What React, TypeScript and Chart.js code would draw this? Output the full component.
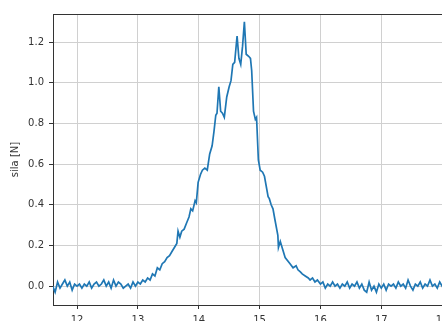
import React, { useEffect, useRef } from "react";
import { Chart, registerables } from "chart.js";

Chart.register(...registerables);

const xValues: number[] = [
  11.60, 11.64, 11.68, 11.72, 11.76, 11.80, 11.84, 11.88, 11.92, 11.96,
  12.00, 12.04, 12.08, 12.12, 12.16, 12.20, 12.24, 12.28, 12.32, 12.36,
  12.40, 12.44, 12.48, 12.52, 12.56, 12.60, 12.64, 12.68, 12.72, 12.76,
  12.80, 12.84, 12.88, 12.92, 12.96, 13.00, 13.04, 13.08, 13.12, 13.16,
  13.20, 13.24, 13.28, 13.32, 13.36, 13.40, 13.44, 13.48, 13.52, 13.56,
  13.60, 13.64, 13.66, 13.69, 13.72, 13.76, 13.80, 13.84, 13.87, 13.90,
  13.94, 13.96, 13.99, 14.03, 14.06, 14.10, 14.14, 14.18, 14.22, 14.25,
  14.28, 14.30, 14.33, 14.36, 14.39, 14.42, 14.46, 14.50, 14.53, 14.56,
  14.59, 14.63, 14.66, 14.69, 14.72, 14.75, 14.78, 14.82, 14.85, 14.87,
  14.90, 14.93, 14.95, 14.98, 15.01, 15.05, 15.08, 15.14, 15.16, 15.19,
  15.22, 15.25, 15.30, 15.31, 15.34, 15.37, 15.42, 15.50, 15.55, 15.60,
  15.63, 15.67, 15.70, 15.75, 15.80, 15.83, 15.87, 15.91, 15.95, 16.00,
  16.04, 16.08, 16.12, 16.16, 16.20, 16.24, 16.28, 16.32, 16.36, 16.40,
  16.44, 16.48, 16.52, 16.56, 16.60, 16.64, 16.68, 16.72, 16.76, 16.80,
  16.84, 16.88, 16.92, 16.96, 17.00, 17.04, 17.08, 17.12, 17.16, 17.20,
  17.24, 17.28, 17.32, 17.36, 17.40, 17.44, 17.48, 17.52, 17.56, 17.60,
  17.64, 17.68, 17.72, 17.76, 17.80, 17.84, 17.88, 17.92, 17.96, 18.00,
  18.04,
];

const forceValues: number[] = [
  0.00, -0.03, 0.02, -0.01, 0.01, 0.03, 0.00, 0.02, -0.02, 0.01,
  0.00, 0.01, -0.01, 0.01, 0.00, 0.02, -0.01, 0.01, 0.02, 0.00,
  0.01, 0.03, 0.00, 0.02, -0.01, 0.03, 0.00, 0.02, 0.01, -0.01,
  0.00, 0.01, -0.01, 0.02, 0.00, 0.02, 0.01, 0.03, 0.02, 0.04,
  0.03, 0.06, 0.05, 0.09, 0.08, 0.11, 0.12, 0.14, 0.15, 0.17,
  0.19, 0.21, 0.27, 0.24, 0.27, 0.28, 0.31, 0.34, 0.38, 0.37,
  0.42, 0.41, 0.51, 0.55, 0.57, 0.58, 0.57, 0.65, 0.69, 0.76,
  0.84, 0.85, 0.98, 0.86, 0.85, 0.83, 0.93, 0.98, 1.01, 1.09,
  1.10, 1.23, 1.12, 1.09, 1.18, 1.30, 1.14, 1.13, 1.12, 1.06,
  0.86, 0.82, 0.83, 0.62, 0.57, 0.56, 0.54, 0.44, 0.43, 0.40,
  0.38, 0.33, 0.25, 0.19, 0.22, 0.19, 0.14, 0.11, 0.09, 0.10,
  0.08, 0.07, 0.06, 0.05, 0.04, 0.03, 0.04, 0.02, 0.03, 0.01,
  0.02, -0.01, 0.01, 0.00, 0.02, 0.00, 0.01, -0.01, 0.01, 0.00,
  0.02, -0.01, 0.01, 0.00, 0.02, -0.01, 0.01, -0.02, -0.03, 0.02,
  -0.02, 0.00, -0.03, 0.01, -0.01, 0.01, -0.02, 0.01, 0.00, 0.01,
  -0.01, 0.02, 0.00, 0.01, -0.01, 0.03, 0.00, -0.02, 0.01, 0.00,
  0.02, -0.01, 0.01, 0.00, 0.03, 0.00, 0.01, -0.01, 0.02, 0.00,
  0.01,
];

const xTickValues: number[] = [12, 13, 14, 15, 16, 17, 18, 19];
const yTickValues: number[] = [0.0, 0.2, 0.4, 0.6, 0.8, 1.0, 1.2];
const yAxisTitle = "sila [N]";

const CANVAS_W = 520;
const CANVAS_H = 340;

const topSpine = {
  id: "topSpine",
  afterDraw(chart: any) {
    const { ctx, chartArea } = chart;
    ctx.save();
    ctx.strokeStyle = "#333333";
    ctx.lineWidth = 1;
    ctx.beginPath();
    ctx.moveTo(chartArea.left, Math.round(chartArea.top) + 0.5);
    ctx.lineTo(chartArea.right, Math.round(chartArea.top) + 0.5);
    ctx.stroke();
    ctx.restore();
  },
};

export default function App() {
  const ref = useRef<HTMLCanvasElement | null>(null);

  useEffect(() => {
    if (!ref.current) return;
    const font = { family: "'DejaVu Sans', sans-serif", size: 10 };
    const chart = new Chart(ref.current, {
      type: "line",
      data: {
        datasets: [
          {
            data: xValues.map((x, i) => ({ x, y: forceValues[i] })),
            borderColor: "#1f77b4",
            borderWidth: 1.7,
            pointRadius: 0,
            tension: 0,
            fill: false,
          },
        ],
      },
      options: {
        animation: false,
        responsive: false,
        maintainAspectRatio: false,
        layout: { padding: { left: 0, top: 14, right: 17, bottom: 0 } },
        plugins: { legend: { display: false }, tooltip: { enabled: false } },
        scales: {
          x: {
            type: "linear",
            min: 11.605,
            max: 19.0,
            afterBuildTicks: (s: any) => {
              s.ticks = xTickValues.map((v) => ({ value: v }));
            },
            afterFit: (s: any) => {
              s.height = CANVAS_H - 305;
            },
            ticks: {
              font,
              color: "#333333",
              padding: 5,
              maxRotation: 0,
              autoSkip: false,
              callback: (v: any) => String(v),
            },
            grid: {
              color: "#d0d0d0",
              lineWidth: 1,
              tickLength: 4,
              tickColor: "#333333",
            },
            border: { display: true, color: "#333333", width: 1 },
          },
          y: {
            type: "linear",
            min: -0.093,
            max: 1.338,
            afterBuildTicks: (s: any) => {
              s.ticks = yTickValues.map((v) => ({ value: v }));
            },
            afterFit: (s: any) => {
              s.width = 53;
            },
            ticks: {
              font,
              color: "#333333",
              padding: 5,
              autoSkip: false,
              callback: (v: any) => Number(v).toFixed(1),
            },
            grid: {
              color: "#d0d0d0",
              lineWidth: 1,
              tickLength: 4,
              tickColor: "#333333",
            },
            border: { display: true, color: "#333333", width: 1 },
            title: {
              display: true,
              text: yAxisTitle,
              font,
              color: "#333333",
              padding: { top: 9, bottom: 0 },
            },
          },
        },
      },
      plugins: [topSpine],
    });
    return () => chart.destroy();
  }, []);

  return (
    <div
      style={{
        position: "fixed",
        left: 0,
        top: 0,
        width: 442,
        height: 321,
        overflow: "hidden",
        background: "#ffffff",
      }}
    >
      <canvas
        ref={ref}
        width={CANVAS_W}
        height={CANVAS_H}
        style={{ width: CANVAS_W, height: CANVAS_H, display: "block" }}
      />
    </div>
  );
}
